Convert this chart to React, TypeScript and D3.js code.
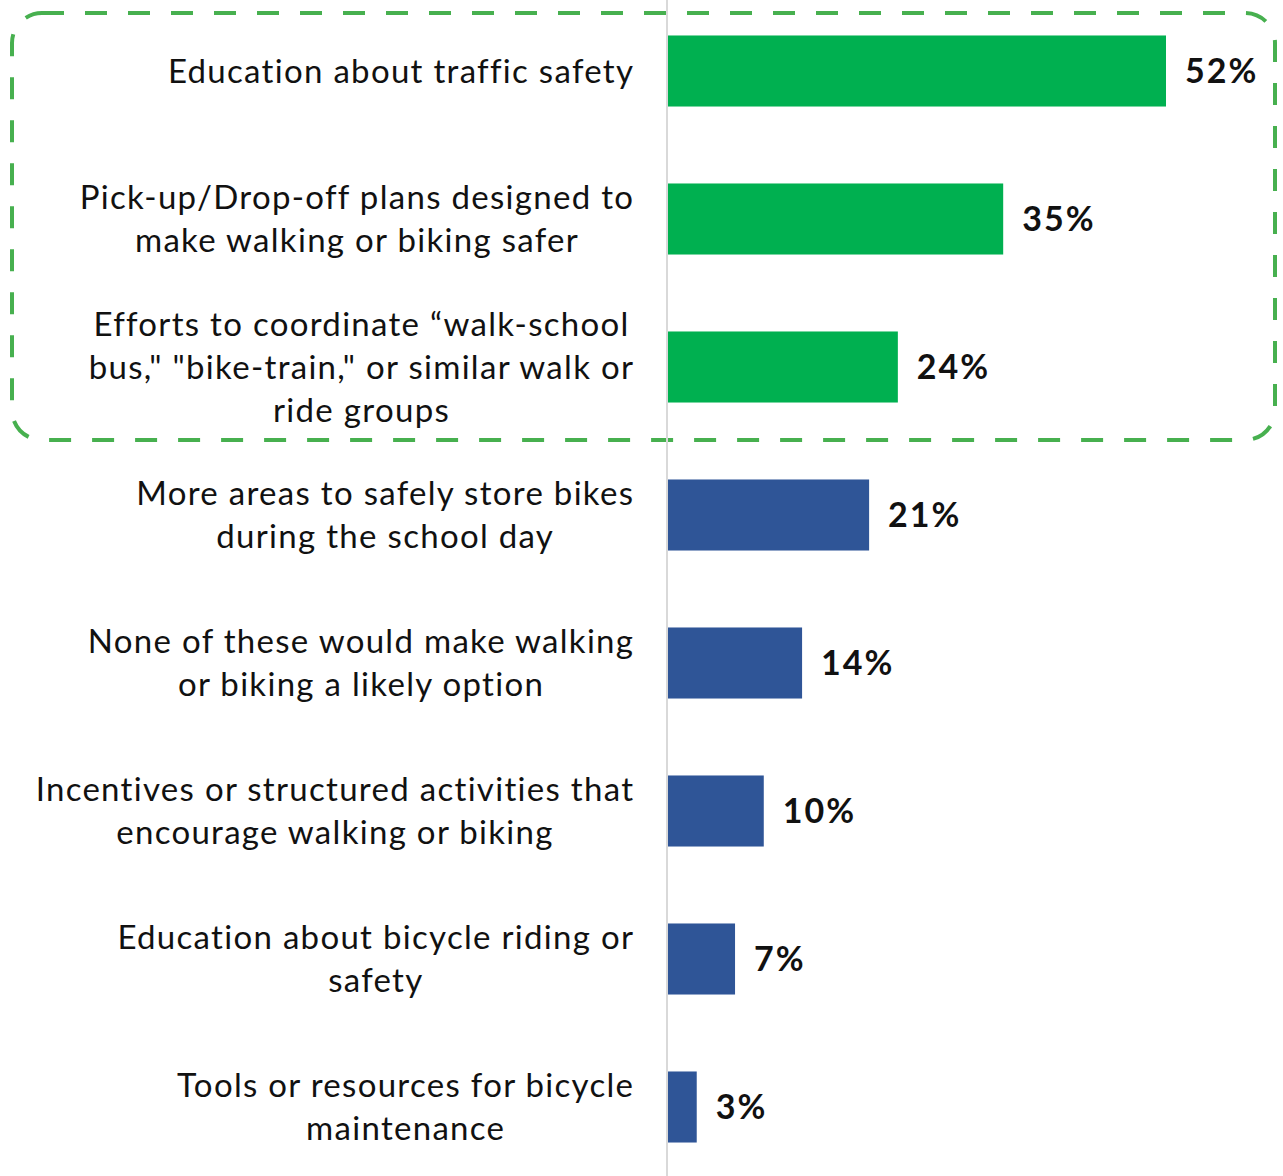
import React, { useEffect, useRef } from "react";
import * as d3 from "d3";

const categories: string[][] = [
  ["Education about traffic safety"],
  ["Pick-up/Drop-off plans designed to", "make walking or biking safer"],
  ["Efforts to coordinate \u201Cwalk-school", "bus,\" \"bike-train,\" or similar walk or", "ride groups"],
  ["More areas to safely store bikes", "during the school day"],
  ["None of these would make walking", "or biking a likely option"],
  ["Incentives or structured activities that", "encourage walking or biking"],
  ["Education about bicycle riding or", "safety"],
  ["Tools or resources for bicycle", "maintenance"],
];
const values: number[] = [52, 35, 24, 21, 14, 10, 7, 3];
const highlighted: boolean[] = [true, true, true, false, false, false, false, false];

const W = 1283;
const H = 1176;

export default function App() {
  const ref = useRef<SVGSVGElement | null>(null);

  useEffect(() => {
    const svg = d3.select(ref.current);
    svg.selectAll("*").remove();
    const ids = categories.map((_, i) => String(i));
    const y = d3.scaleBand<string>().domain(ids).range([-3, 1181]).paddingInner(0.52).paddingOuter(0.26);
    const x = d3.scaleLinear().domain([0, 52]).range([668, 1166]);
    const font = "Lato, 'Open Sans', sans-serif";

    // highlight dashed box
    svg.append("rect")
      .attr("x", 12).attr("y", 13).attr("width", 1263).attr("height", 427)
      .attr("rx", 30).attr("ry", 30)
      .attr("fill", "none").attr("stroke", "#47B04F").attr("stroke-width", 4)
      .attr("stroke-dasharray", "22 21");

    // axis line
    svg.append("line").attr("x1", 667).attr("x2", 667).attr("y1", 0).attr("y2", H)
      .attr("stroke", "#d9d9d9").attr("stroke-width", 2);

    // bars
    svg.selectAll("rect.bar").data(values).enter().append("rect")
      .attr("class", "bar")
      .attr("x", x(0))
      .attr("y", (_, i) => y(ids[i])!)
      .attr("width", (d) => x(d) - x(0))
      .attr("height", y.bandwidth())
      .attr("fill", (_, i) => (highlighted[i] ? "#00B050" : "#2F5597"));

    // value labels
    svg.selectAll("text.val").data(values).enter().append("text")
      .attr("class", "val")
      .attr("x", (d) => x(d) + 19)
      .attr("y", (_, i) => y(ids[i])! + y.bandwidth() / 2)
      .attr("dy", "0.36em")
      .attr("font-family", font).attr("font-weight", 700).attr("font-size", 34)
      .attr("letter-spacing", 2)
      .attr("fill", "#111")
      .text((d) => `${d}%`);

    // category labels: block right-aligned at 633, lines centered within block
    const lineH = 43;
    const ls = 1.3;
    categories.forEach((lines, i) => {
      const cy = y(ids[i])! + y.bandwidth() / 2;
      const g = svg.append("g");
      const texts = lines.map((ln, j) =>
        g.append("text")
          .attr("y", cy + (j - (lines.length - 1) / 2) * lineH)
          .attr("dy", "0.35em")
          .attr("font-family", font).attr("font-weight", 400).attr("font-size", 33)
          .attr("letter-spacing", ls)
          .attr("fill", "#111")
          .attr("text-anchor", "middle")
          .text(ln)
      );
      const widths = texts.map((t) => (t.node() as SVGTextElement).getComputedTextLength());
      const maxW = Math.max(...widths);
      const cx = 633 + ls - maxW / 2;
      texts.forEach((t) => t.attr("x", cx));
    });
  }, []);

  return (
    <svg ref={ref} width={W} height={H} style={{ position: "absolute", left: 0, top: 0, background: "#fff" }} />
  );
}
